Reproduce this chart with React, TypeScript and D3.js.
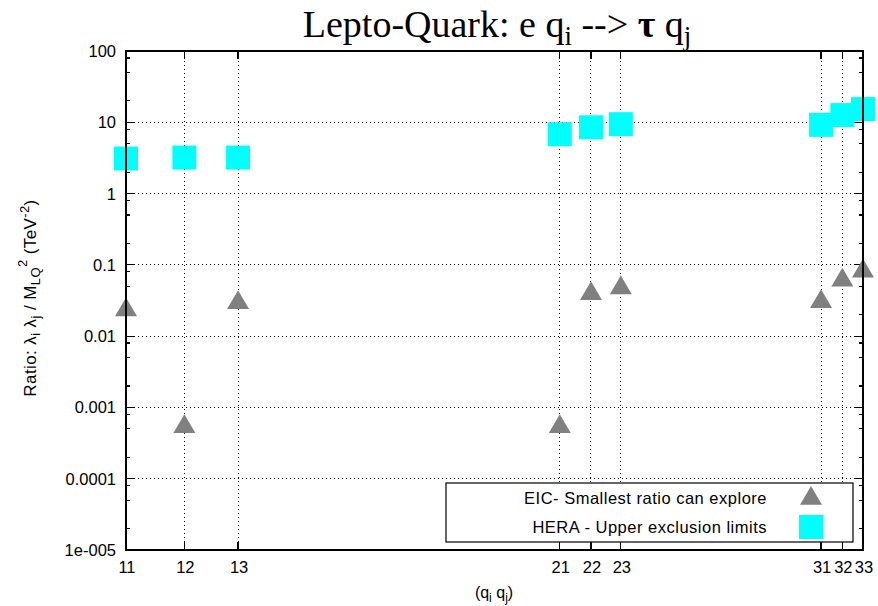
import React from 'react';
import * as d3 from 'd3';

// channel codes (q_i q_j)
const channels = [11, 12, 13, 21, 22, 23, 31, 32, 33];
// HERA upper exclusion limits
const heraValues = [3.1, 3.2, 3.2, 6.8, 8.5, 9.4, 9.2, 12.6, 15.3];
// EIC smallest ratio that can be explored
const eicValues = [0.026, 0.0006, 0.033, 0.0006, 0.044, 0.053, 0.034, 0.068, 0.091];
const yTickValues = [1e-5, 1e-4, 1e-3, 1e-2, 1e-1, 1, 10, 100];
const yTickLabels = ['1e-005', '0.0001', '0.001', '0.01', '0.1', '1', '10', '100'];
const minorMults = [2, 5, 8];

const W = 878, H = 606;
const margin = { l: 126, r: 15, t: 51, b: 56 };
const sans = '"Liberation Sans", Arial, sans-serif';

export default function App() {
  const x = d3.scaleLog().domain([11, 33]).range([margin.l, W - margin.r]);
  const y = d3.scaleLog().domain([1e-5, 100]).range([H - margin.b, margin.t]);
  const [x0, x1] = x.range();
  const [y0, y1] = y.range();

  const minors: number[] = [];
  yTickValues.slice(0, -1).forEach((v) => minorMults.forEach((m) => minors.push(v * m)));

  const tri = (cx: number, cy: number, s: number) =>
    `M${cx},${cy - s * 0.5}L${cx + s / 2},${cy + s * 0.35}L${cx - s / 2},${cy + s * 0.35}Z`;

  const sq = 24;
  const legX = 446, legY = 483, legW = 407, legH = 59;

  return (
    <div style={{ position: 'absolute', left: 0, top: 0 }}>
      <svg width={W} height={H} style={{ display: 'block', background: '#fff' }}>
        {/* title */}
        <text x={497} y={37} textAnchor="middle" fontFamily='"Liberation Serif", "Times New Roman", serif' fontSize={38}>
          Lepto-Quark: e q<tspan dy={8} fontSize={27}>i</tspan>
          <tspan dy={-8}> --&gt; </tspan>
          <tspan fontWeight="bold">τ</tspan> q<tspan dy={8} fontSize={27}>j</tspan>
        </text>

        {/* grid */}
        <g stroke="#000" strokeWidth={1} strokeDasharray="1,3" shapeRendering="crispEdges">
          {yTickValues.slice(1, -1).map((v) => (
            <line key={'gy' + v} x1={x0} x2={x1} y1={y(v)} y2={y(v)} />
          ))}
          {channels.slice(1).map((c) => (
            <line key={'gx' + c} x1={x(c)} x2={x(c)} y1={y0} y2={y1} />
          ))}
        </g>

        {/* ticks */}
        <g stroke="#000" strokeWidth={1.2} shapeRendering="crispEdges">
          {yTickValues.map((v) => (
            <g key={'ty' + v}>
              <line x1={x0} x2={x0 + 8} y1={y(v)} y2={y(v)} />
              <line x1={x1} x2={x1 - 8} y1={y(v)} y2={y(v)} />
            </g>
          ))}
          {minors.map((v) => (
            <g key={'my' + v}>
              <line x1={x0} x2={x0 + 4} y1={y(v)} y2={y(v)} />
              <line x1={x1} x2={x1 - 4} y1={y(v)} y2={y(v)} />
            </g>
          ))}
          {channels.map((c) => (
            <g key={'tx' + c}>
              <line x1={x(c)} x2={x(c)} y1={y0} y2={y0 - 8} />
              <line x1={x(c)} x2={x(c)} y1={y1} y2={y1 + 8} />
            </g>
          ))}
        </g>

        {/* tick labels */}
        <g fontFamily={sans} fontSize={16.5} fill="#000">
          {yTickValues.map((v, i) => (
            <text key={'ly' + v} x={x0 - 10} y={y(v) + 6} textAnchor="end">{yTickLabels[i]}</text>
          ))}
          {channels.map((c) => (
            <text key={'lx' + c} x={x(c) + 1} y={573} textAnchor="middle">{c}</text>
          ))}
        </g>

        {/* axis titles */}
        <text x={494} y={598} textAnchor="middle" fontFamily={sans} fontSize={16}>
          (q<tspan dy={4} fontSize={12}>i</tspan><tspan dy={-4}> q</tspan><tspan dy={4} fontSize={12}>j</tspan><tspan dy={-4}>)</tspan>
        </text>
        <text transform="translate(36,298) rotate(-90)" textAnchor="middle" fontFamily={sans} fontSize={17} letterSpacing={0.4}>
          Ratio: λ<tspan dy={4} fontSize={13}>i</tspan><tspan dy={-4}> λ</tspan><tspan dy={4} fontSize={13}>j</tspan>
          <tspan dy={-4}> / M</tspan><tspan dy={4} fontSize={13}>LQ</tspan><tspan dy={-13} fontSize={13}>2</tspan>
          <tspan dy={9}> (TeV</tspan><tspan dy={-7} fontSize={13}>-2</tspan><tspan dy={7}>)</tspan>
        </text>

        {/* data */}
        <g>
          {channels.map((c, i) => (
            <rect key={'h' + c} x={x(c) - sq / 2} y={y(heraValues[i]) - sq / 2} width={sq} height={sq} fill="#00ffff" />
          ))}
          {channels.map((c, i) => (
            <path key={'e' + c} d={tri(x(c), y(eicValues[i]) + 2, 22)} fill="#808080" />
          ))}
        </g>

        {/* legend */}
        <g fontFamily={sans} fontSize={16.5} letterSpacing={0.5}>
          <rect x={legX} y={legY} width={legW} height={legH} fill="#fff" stroke="#000" strokeWidth={1.2} />
          <text x={767} y={504} textAnchor="end">EIC- Smallest ratio can explore</text>
          <text x={767} y={533} textAnchor="end">HERA - Upper exclusion limits</text>
          <path d={tri(811, 497, 22)} fill="#808080" />
          <rect x={811 - 12} y={515} width={24} height={24} fill="#00ffff" />
        </g>

        {/* border */}
        <rect x={x0} y={y1} width={x1 - x0} height={y0 - y1} fill="none" stroke="#000" strokeWidth={2} />
      </svg>
    </div>
  );
}
